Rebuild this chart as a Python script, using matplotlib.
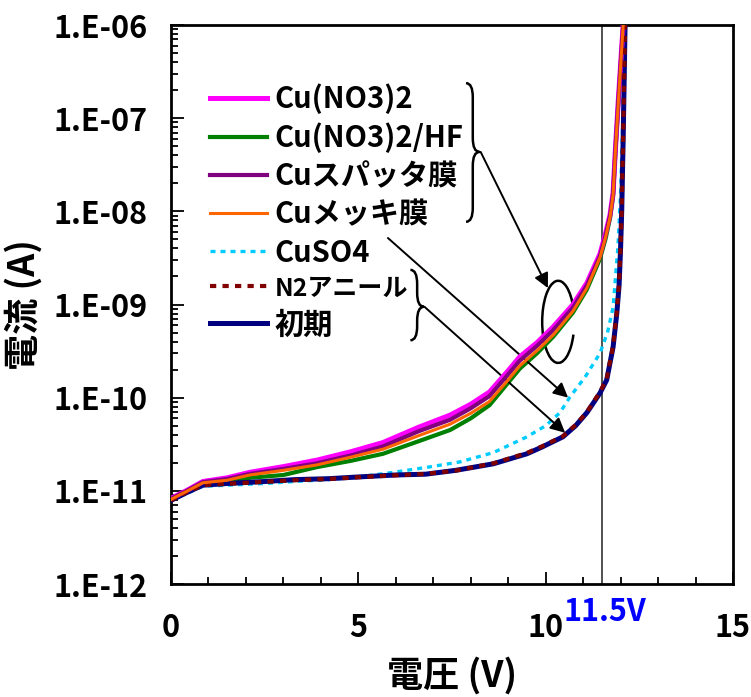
import matplotlib
matplotlib.use("Agg")
import matplotlib.pyplot as plt
from matplotlib.patches import Arc, PathPatch
from matplotlib.path import Path
from matplotlib.ticker import FixedLocator, MultipleLocator, FuncFormatter, LogLocator, NullFormatter
import numpy as np

plt.rcParams["font.family"] = ["Noto Sans CJK JP", "DejaVu Sans"]
plt.rcParams["font.weight"] = "bold"

# voltage sweeps (V)
V_UPPER = [0, 0.4, 0.85, 1.5, 2.1, 3.0, 3.9, 4.8, 5.66, 6.6, 7.45, 8.0, 8.5,
           9.0, 9.31, 9.77, 10.2, 10.73, 11.1, 11.45, 11.6, 11.72, 11.8, 11.86,
           11.94, 12.02, 12.07]
V_LOWER = [0, 0.4, 0.85, 1.5, 2.5, 3.3, 4.2, 5.0, 6.0, 6.8, 7.6, 8.6, 9.5,
           9.9, 10.46, 10.8, 11.1, 11.45, 11.63, 11.8, 11.9, 11.96, 12.0, 12.03,
           12.07, 12.12]
V_CUSO4 = [0, 0.4, 0.85, 1.5, 2.5, 3.3, 4.2, 5.0, 5.93, 6.8, 7.7, 8.6, 9.5,
           10.0, 10.38, 10.65, 11.05, 11.45, 11.65, 11.8, 11.93, 12.0, 12.06, 12.12]

# leakage current (A)
I_CU_NO3 = [8.3e-12, 1.0e-11, 1.26e-11, 1.38e-11, 1.58e-11, 1.82e-11, 2.14e-11, 2.63e-11,
            3.3e-11, 4.8e-11, 6.5e-11, 8.5e-11, 1.15e-10, 1.95e-10, 2.75e-10, 3.9e-10,
            5.75e-10, 1.0e-9, 1.7e-9, 3.5e-9, 5.8e-9, 9.3e-9, 1.58e-8, 4.5e-8,
            1.58e-7, 5.0e-7, 1.0e-6]
I_CU_NO3_HF = [8.0e-12, 9.6e-12, 1.18e-11, 1.25e-11, 1.38e-11, 1.48e-11, 1.8e-11, 2.1e-11,
               2.5e-11, 3.4e-11, 4.5e-11, 6.0e-11, 8.3e-11, 1.45e-10, 2.05e-10, 3.0e-10,
               4.5e-10, 8.2e-10, 1.45e-9, 3.1e-9, 5.1e-9, 8.5e-9, 1.45e-8, 4.2e-8,
               1.45e-7, 4.7e-7, 1.0e-6]
I_SPUTTER = [8.2e-12, 9.9e-12, 1.24e-11, 1.34e-11, 1.52e-11, 1.72e-11, 1.98e-11, 2.4e-11,
             3.0e-11, 4.35e-11, 5.8e-11, 7.7e-11, 1.04e-10, 1.78e-10, 2.5e-10, 3.6e-10,
             5.3e-10, 9.3e-10, 1.6e-9, 3.3e-9, 5.5e-9, 9.0e-9, 1.55e-8, 4.4e-8,
             1.55e-7, 4.9e-7, 1.0e-6]
I_PLATED = [8.1e-12, 9.8e-12, 1.22e-11, 1.3e-11, 1.48e-11, 1.66e-11, 1.9e-11, 2.3e-11,
            2.8e-11, 3.9e-11, 5.2e-11, 6.8e-11, 9.1e-11, 1.55e-10, 2.2e-10, 3.2e-10,
            4.7e-10, 8.5e-10, 1.5e-9, 3.2e-9, 5.3e-9, 8.7e-9, 1.5e-8, 4.3e-8,
            1.5e-7, 4.8e-7, 1.0e-6]
I_CUSO4 = [7.9e-12, 9.3e-12, 1.12e-11, 1.15e-11, 1.2e-11, 1.26e-11, 1.32e-11, 1.41e-11,
           1.58e-11, 1.78e-11, 2.04e-11, 2.57e-11, 3.8e-11, 5.0e-11, 6.9e-11, 1.02e-10,
           1.66e-10, 3.0e-10, 5.0e-10, 9.3e-10, 4.2e-9, 1.58e-8, 1.0e-7, 1.0e-6]
I_N2_ANNEAL = [7.9e-12, 9.6e-12, 1.15e-11, 1.19e-11, 1.25e-11, 1.3e-11, 1.34e-11, 1.4e-11,
               1.47e-11, 1.52e-11, 1.65e-11, 1.97e-11, 2.55e-11, 3.0e-11, 3.85e-11, 5.1e-11,
               7.0e-11, 1.15e-10, 1.6e-10, 3.6e-10, 8.5e-10, 1.7e-9, 4.2e-9, 1.05e-8,
               6.6e-8, 1.0e-6]
I_INITIAL = [7.9e-12, 9.5e-12, 1.15e-11, 1.2e-11, 1.26e-11, 1.32e-11, 1.35e-11, 1.41e-11,
             1.48e-11, 1.51e-11, 1.66e-11, 1.95e-11, 2.5e-11, 2.95e-11, 3.8e-11, 5.0e-11,
             6.9e-11, 1.12e-10, 1.55e-10, 3.5e-10, 8.1e-10, 1.6e-9, 4.0e-9, 1.0e-8,
             6.3e-8, 1.0e-6]

BREAKDOWN_V = 11.5

FS = 22


def brace(ax, x, y_top, y_bot, y_tip, w):
    """Right-facing curly brace in axes coordinates."""
    r = 0.025
    verts = [
        (x, y_top), (x + w, y_top), (x + w, y_top - r),
        (x + w, y_tip + r),
        (x + w, y_tip), (x + 2 * w, y_tip),
        (x + w, y_tip), (x + w, y_tip - r),
        (x + w, y_bot + r),
        (x + w, y_bot), (x, y_bot),
    ]
    codes = [Path.MOVETO, Path.CURVE3, Path.CURVE3, Path.LINETO,
             Path.CURVE3, Path.CURVE3, Path.CURVE3, Path.CURVE3,
             Path.LINETO, Path.CURVE3, Path.CURVE3]
    ax.add_patch(PathPatch(Path(verts, codes), transform=ax.transAxes,
                           fill=False, lw=1.8, color="black", clip_on=False))


fig = plt.figure(figsize=(7.51, 6.97), dpi=100)
ax = fig.add_axes([0.2277, 0.1621, 0.7483, 0.8020])

ax.axvline(BREAKDOWN_V, color="#333333", lw=1.2, zorder=1)

ax.plot(V_UPPER, I_CU_NO3_HF, color="#008000", lw=3.0, label="Cu(NO3)2/HF", zorder=3)
ax.plot(V_UPPER, I_PLATED, color="#FF6600", lw=2.2, label="Cuメッキ膜", zorder=5)
ax.plot(V_UPPER, I_SPUTTER, color="#800080", lw=3.0, label="Cuスパッタ膜", zorder=4)
ax.plot(V_UPPER, I_CU_NO3, color="#FF00FF", lw=3.6, label="Cu(NO3)2", zorder=3.5)
ax.plot(V_CUSO4, I_CUSO4, color="#00CCFF", lw=2.4, ls=(0, (1.5, 1.5)), label="CuSO4", zorder=3)
ax.plot(V_LOWER, I_INITIAL, color="#000080", lw=3.6, label="初期", zorder=3)
ax.plot(V_LOWER, I_N2_ANNEAL, color="#800000", lw=3.0, ls=(0, (1.5, 1.5)), label="N2アニール", zorder=4)

ax.set_yscale("log")
ax.set_xlim(0, 15)
ax.set_ylim(1e-12, 1e-6)

ax.xaxis.set_major_locator(FixedLocator([0, 5, 10, 15]))
ax.xaxis.set_minor_locator(MultipleLocator(1))
ax.yaxis.set_major_locator(FixedLocator([10.0 ** e for e in range(-12, -5)]))
ax.yaxis.set_minor_locator(LogLocator(base=10, subs=np.arange(2, 10)))
ax.yaxis.set_minor_formatter(NullFormatter())
ax.yaxis.set_major_formatter(FuncFormatter(lambda v, p: "1.E-%02d" % round(-np.log10(v))))

ax.tick_params(which="both", direction="in", top=False, right=False, width=1.3)
ax.tick_params(which="major", length=9, labelsize=FS)
ax.tick_params(which="minor", length=5)
ax.tick_params(axis="y", which="major", pad=17)
ax.tick_params(axis="x", which="major", pad=20)
for s in ax.spines.values():
    s.set_linewidth(2)

ax.set_xlabel("電圧 (V)", fontsize=26, fontweight="bold", labelpad=9)
ax.set_ylabel("電流 (A)", fontsize=26, fontweight="bold", labelpad=8)

ax.text(11.58, -0.022, "11.5V", transform=ax.get_xaxis_transform(),
        ha="center", va="top", color="#0000FF", fontsize=22, fontweight="bold")

order = ["Cu(NO3)2", "Cu(NO3)2/HF", "Cuスパッタ膜", "Cuメッキ膜", "CuSO4", "N2アニール", "初期"]
handles, labels = ax.get_legend_handles_labels()
lookup = dict(zip(labels, handles))
leg = ax.legend([lookup[k] for k in order], order, loc="upper left", bbox_to_anchor=(0.069, 0.895),
                frameon=False, fontsize=21, handlelength=1.95, handletextpad=0.27,
                labelspacing=0.28, borderaxespad=0, borderpad=0)
# the annealed sample's label is set a size smaller
leg.get_texts()[order.index("N2アニール")].set_fontsize(18)

# grouping braces and arrows
brace(ax, 0.525, 0.896, 0.648, 0.773, 0.012)
brace(ax, 0.426, 0.562, 0.436, 0.496, 0.012)
ax.add_patch(Arc((0.689, 0.469), 0.057, 0.147, theta1=40, theta2=320,
                 transform=ax.transAxes, lw=1.8, color="black"))

arrow = dict(arrowstyle="-|>", mutation_scale=22, lw=1.4, color="black", shrinkA=0, shrinkB=0)
ax.annotate("", xy=(10.06, 1.5e-9), xytext=(0.551, 0.773), textcoords="axes fraction", arrowprops=arrow)
ax.annotate("", xy=(10.6, 1.0e-10), xytext=(0.386, 0.619), textcoords="axes fraction", arrowprops=arrow)
ax.annotate("", xy=(10.52, 4.2e-11), xytext=(0.451, 0.496), textcoords="axes fraction", arrowprops=arrow)

fig.savefig("out.png", dpi=100)
